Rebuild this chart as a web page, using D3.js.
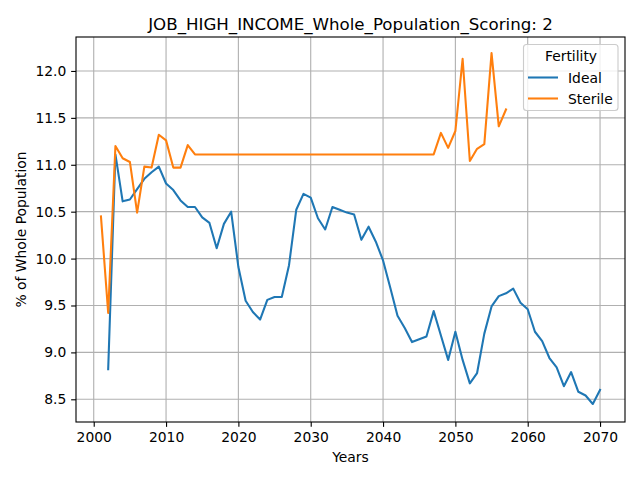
<!DOCTYPE html>
<html>
<head>
<meta charset="utf-8">
<script src="https://cdn.jsdelivr.net/npm/d3@7"></script>
<style>
  body { margin: 0; background: #fff; }
  text { font-family: "DejaVu Sans", sans-serif; fill: #000; }
</style>
</head>
<body>
<div id="chart"></div>
<script>
// Years for each series
const idealYears = d3.range(2002, 2071);
const sterileYears = d3.range(2001, 2058);

// % of whole population
const idealValues = [
  8.82, 11.11, 10.61, 10.63, 10.74, 10.85, 10.92, 10.98, 10.80, 10.73,
  10.62, 10.55, 10.55, 10.44, 10.38, 10.11, 10.37, 10.50, 9.91, 9.55,
  9.43, 9.35, 9.56, 9.59, 9.59, 9.93, 10.52, 10.69, 10.65, 10.43,
  10.31, 10.55, 10.52, 10.49, 10.47, 10.20, 10.34, 10.18, 9.98, 9.69,
  9.39, 9.26, 9.11, 9.14, 9.17, 9.44, 9.18, 8.92, 9.22, 8.92,
  8.67, 8.78, 9.20, 9.49, 9.60, 9.63, 9.68, 9.53, 9.46, 9.22,
  9.12, 8.94, 8.84, 8.64, 8.79, 8.58, 8.54, 8.45, 8.60
];
const sterileValues = [
  10.45, 9.42, 11.20, 11.07, 11.03, 10.49, 10.98, 10.97, 11.32, 11.26,
  10.97, 10.97, 11.21,
  11.11, 11.11, 11.11, 11.11, 11.11, 11.11, 11.11, 11.11, 11.11, 11.11,
  11.11, 11.11, 11.11, 11.11, 11.11, 11.11, 11.11, 11.11, 11.11, 11.11,
  11.11, 11.11, 11.11, 11.11, 11.11, 11.11, 11.11, 11.11, 11.11, 11.11,
  11.11, 11.11, 11.11, 11.11,
  11.34, 11.18, 11.36, 12.13, 11.04, 11.17, 11.22, 12.19, 11.41, 11.59
];

const seriesNames = ["Ideal", "Sterile"];
const seriesColors = ["#1f77b4", "#ff7f0e"];
const xTicks = [2000, 2010, 2020, 2030, 2040, 2050, 2060, 2070];
const yTicks = [8.5, 9.0, 9.5, 10.0, 10.5, 11.0, 11.5, 12.0];

const width = 640, height = 480;
const margin = { top: 37, right: 15, bottom: 58, left: 76 };
const fontSize = "13.89px";

const svg = d3.select("#chart")
  .append("svg")
  .attr("width", width)
  .attr("height", height);

const x = d3.scaleLinear()
  .domain([1997.55, 2073.45])
  .range([margin.left, width - margin.right]);

const y = d3.scaleLinear()
  .domain([8.258, 12.362])
  .range([height - margin.bottom, margin.top]);

// Grid lines
svg.append("g")
  .selectAll("line")
  .data(xTicks)
  .enter().append("line")
  .attr("x1", d => x(d)).attr("x2", d => x(d))
  .attr("y1", margin.top).attr("y2", height - margin.bottom)
  .attr("stroke", "#b0b0b0")
  .attr("stroke-width", 1.11);

svg.append("g")
  .selectAll("line")
  .data(yTicks)
  .enter().append("line")
  .attr("x1", margin.left).attr("x2", width - margin.right)
  .attr("y1", d => y(d)).attr("y2", d => y(d))
  .attr("stroke", "#b0b0b0")
  .attr("stroke-width", 1.11);

// Lines
const line = d3.line()
  .x(d => x(d[0]))
  .y(d => y(d[1]));

const series = [
  d3.zip(idealYears, idealValues),
  d3.zip(sterileYears, sterileValues)
];

series.forEach((s, i) => {
  svg.append("path")
    .datum(s)
    .attr("fill", "none")
    .attr("stroke", seriesColors[i])
    .attr("stroke-width", 2.08)
    .attr("stroke-linejoin", "round")
    .attr("stroke-linecap", "square")
    .attr("d", line);
});

// Axes
const xAxis = svg.append("g")
  .attr("transform", `translate(0,${height - margin.bottom})`)
  .call(d3.axisBottom(x).tickValues(xTicks).tickFormat(d3.format("d"))
    .tickSizeInner(4.86).tickSizeOuter(0).tickPadding(4.86));

const yAxis = svg.append("g")
  .attr("transform", `translate(${margin.left},0)`)
  .call(d3.axisLeft(y).tickValues(yTicks).tickFormat(d3.format(".1f"))
    .tickSizeInner(4.86).tickSizeOuter(0).tickPadding(4.86));

[xAxis, yAxis].forEach(a => {
  a.select(".domain").remove();
  a.selectAll("line").attr("stroke", "#000").attr("stroke-width", 1.11);
  a.selectAll("text")
    .attr("font-family", "DejaVu Sans, sans-serif")
    .attr("font-size", fontSize)
    .attr("fill", "#000");
});

// Frame
svg.append("rect")
  .attr("x", margin.left)
  .attr("y", margin.top)
  .attr("width", width - margin.left - margin.right)
  .attr("height", height - margin.top - margin.bottom)
  .attr("fill", "none")
  .attr("stroke", "#000")
  .attr("stroke-width", 1.11);

// Title
svg.append("text")
  .attr("x", (margin.left + width - margin.right) / 2)
  .attr("y", 30)
  .attr("text-anchor", "middle")
  .style("font-size", "16.67px")
  .text("JOB_HIGH_INCOME_Whole_Population_Scoring: 2");

// Axis labels
svg.append("text")
  .attr("x", (margin.left + width - margin.right) / 2)
  .attr("y", 462)
  .attr("text-anchor", "middle")
  .style("font-size", fontSize)
  .text("Years");

svg.append("text")
  .attr("transform", "rotate(-90)")
  .attr("x", -(margin.top + height - margin.bottom) / 2)
  .attr("y", 26)
  .attr("text-anchor", "middle")
  .style("font-size", fontSize)
  .text("% of Whole Population");

// Legend
const legend = svg.append("g");

legend.append("rect")
  .attr("x", 523.5)
  .attr("y", 44.5)
  .attr("width", 94.5)
  .attr("height", 66)
  .attr("rx", 3)
  .attr("fill", "#fff")
  .attr("fill-opacity", 0.8)
  .attr("stroke", "#cccccc")
  .attr("stroke-width", 1.11);

legend.append("text")
  .attr("x", 571)
  .attr("y", 60.5)
  .attr("text-anchor", "middle")
  .style("font-size", fontSize)
  .text("Fertility");

seriesNames.forEach((name, i) => {
  const ly = 77.5 + i * 21;
  legend.append("line")
    .attr("x1", 528).attr("x2", 558)
    .attr("y1", ly).attr("y2", ly)
    .attr("stroke", seriesColors[i])
    .attr("stroke-width", 2.08);
  legend.append("text")
    .attr("x", 568)
    .attr("y", ly + 5)
    .style("font-size", fontSize)
    .text(name);
});
</script>
</body>
</html>
